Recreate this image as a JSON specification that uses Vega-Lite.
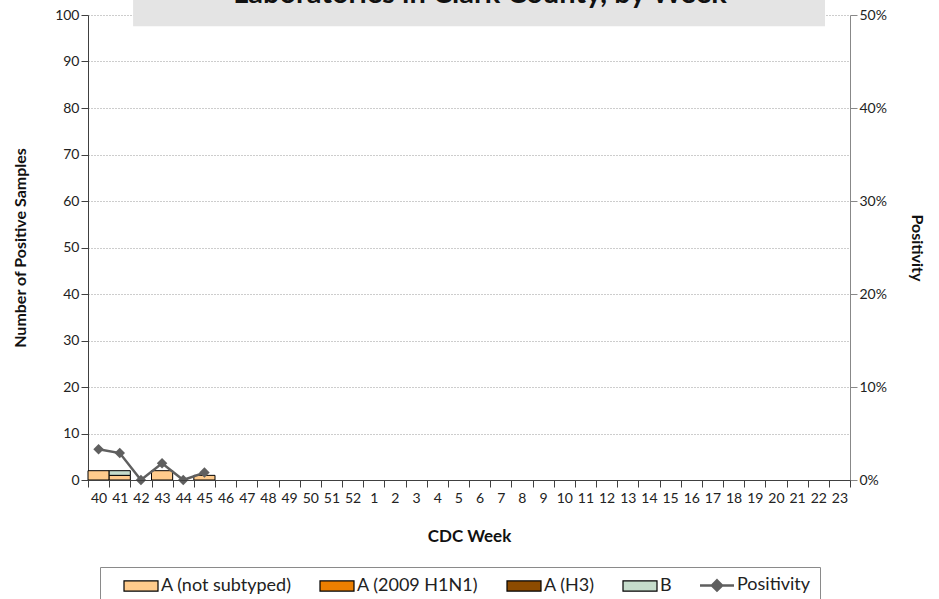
{
  "$schema": "https://vega.github.io/schema/vega-lite/v6.json",
  "width": 762,
  "height": 465,
  "autosize": "none",
  "padding": {"left": 88, "top": 15, "right": 89, "bottom": 119},
  "background": "white",
  "config": {
    "font": "Lato",
    "view": {"stroke": null},
    "axis": {
      "labelFont": "Lato",
      "labelFontSize": 14,
      "labelColor": "#222222",
      "titleFont": "Lato",
      "titleFontSize": 16,
      "titleFontWeight": "bold",
      "titleColor": "#111111",
      "tickSize": 7,
      "domainColor": "#404040",
      "tickColor": "#404040"
    }
  },
  "title": {
    "text": "Laboratories in Clark County, by Week",
    "fontSize": 29,
    "fontWeight": "bold",
    "color": "#111111",
    "font": "Lato",
    "anchor": "middle",
    "frame": "group",
    "baseline": "alphabetic",
    "offset": 0,
    "dy": 36,
    "dx": 11,
    "zindex": 2
  },
  "datasets": {
    "bars": [
      {"week": "40", "type": "A (not subtyped)", "count": 2},
      {"week": "41", "type": "A (not subtyped)", "count": 1},
      {"week": "41", "type": "B", "count": 1},
      {"week": "43", "type": "A (not subtyped)", "count": 2},
      {"week": "45", "type": "A (not subtyped)", "count": 1}
    ],
    "pos": [
      {"week": "40", "positivity": 0.033},
      {"week": "41", "positivity": 0.029},
      {"week": "42", "positivity": 0.0},
      {"week": "43", "positivity": 0.018},
      {"week": "44", "positivity": 0.0},
      {"week": "45", "positivity": 0.008}
    ]
  },
  "encoding": {
    "x": {
      "field": "week",
      "type": "nominal",
      "sort": ["40","41","42","43","44","45","46","47","48","49","50","51","52","1","2","3","4","5","6","7","8","9","10","11","12","13","14","15","16","17","18","19","20","21","22","23"],
      "scale": {"domain": ["40","41","42","43","44","45","46","47","48","49","50","51","52","1","2","3","4","5","6","7","8","9","10","11","12","13","14","15","16","17","18","19","20","21","22","23"], "paddingInner": 0, "paddingOuter": 0},
      "axis": {
        "title": "CDC Week",
        "labelAngle": 0,
        "tickBand": "extent",
        "labelPadding": 4,
        "titlePadding": 23,
        "titleFontSize": 17,
        "grid": false
      }
    }
  },
  "layer": [
    {
      "layer": [
        {
          "data": {"values": [{}]},
          "mark": {"type": "rect", "color": "#E4E4E4", "clip": false},
          "encoding": {
            "x": {"datum": "42", "type": "nominal", "bandPosition": 0.13},
            "x2": {"datum": "22", "bandPosition": 0.82},
            "y": {"datum": 104, "type": "quantitative"},
            "y2": {"datum": 97.6}
          }
        },
        {
          "data": {"name": "bars"},
          "mark": {"type": "bar", "stroke": "#000000", "strokeWidth": 1},
          "encoding": {
            "y": {
              "field": "count",
              "type": "quantitative",
              "stack": "zero",
              "scale": {"domain": [0, 100]},
              "axis": {
                "title": "Number of Positive Samples",
                "values": [0,10,20,30,40,50,60,70,80,90,100],
                "grid": true,
                "gridColor": "#9a9a9a",
                "gridDash": [1, 2],
                "gridWidth": 1,
                "titlePadding": 26
              }
            },
            "color": {
              "field": "type",
              "type": "nominal",
              "scale": {
                "domain": ["A (not subtyped)", "A (2009 H1N1)", "A (H3)", "B", "Positivity"],
                "range": ["#FFCB8C", "#EC7F00", "#8C4B00", "#C5DCCB", "#5F5F5F"]
              },
              "legend": {
                "title": null,
                "orient": "none",
                "legendX": 12,
                "legendY": 552,
                "direction": "horizontal",
                "columns": 5,
                "columnPadding": 13,
                "padding": 9,
                "strokeColor": "#8a8a8a",
                "labelFont": "Lato",
                "labelFontSize": 18,
                "labelColor": "#222222",
                "labelOffset": 11,
                "symbolOffset": 23,
                "symbolSize": 1156,
                "symbolStrokeColor": "#000000",
                "symbolStrokeWidth": 1.2,
                "encode": {
                  "symbols": {
                    "update": {
                      "shape": {"signal": "datum.value === 'Positivity' ? 'M-1,0H1M0,-0.3L0.3,0L0,0.3L-0.3,0Z' : 'M-1,-0.3H1V0.3H-1Z'"},
                      "stroke": {"signal": "datum.value === 'Positivity' ? '#5F5F5F' : '#000000'"},
                      "strokeWidth": {"signal": "datum.value === 'Positivity' ? 2.5 : 1.2"},
                      "strokeOpacity": {"value": 1},
                      "fill": {"scale": "color", "field": "value"},
                      "fillOpacity": {"value": 1},
                      "opacity": {"value": 1}
                    }
                  }
                }
              }
            },
            "order": {"field": "type", "type": "nominal", "sort": "ascending"}
          }
        }
      ]
    },
    {
      "data": {"name": "pos"},
      "mark": {"type": "line", "color": "#5F5F5F", "strokeWidth": 2.5, "point": {"shape": "diamond", "size": 110, "filled": true, "color": "#5F5F5F"}},
      "encoding": {
        "y": {
          "field": "positivity",
          "type": "quantitative",
          "scale": {"domain": [0, 0.5]},
          "axis": {
            "orient": "right",
            "title": "Positivity",
            "format": ".0%",
            "values": [0, 0.1, 0.2, 0.3, 0.4, 0.5],
            "grid": false,
            "domainColor": "#888888",
            "tickColor": "#888888",
            "titlePadding": 22
          }
        }
      }
    }
  ],
  "resolve": {"scale": {"y": "independent"}}
}
